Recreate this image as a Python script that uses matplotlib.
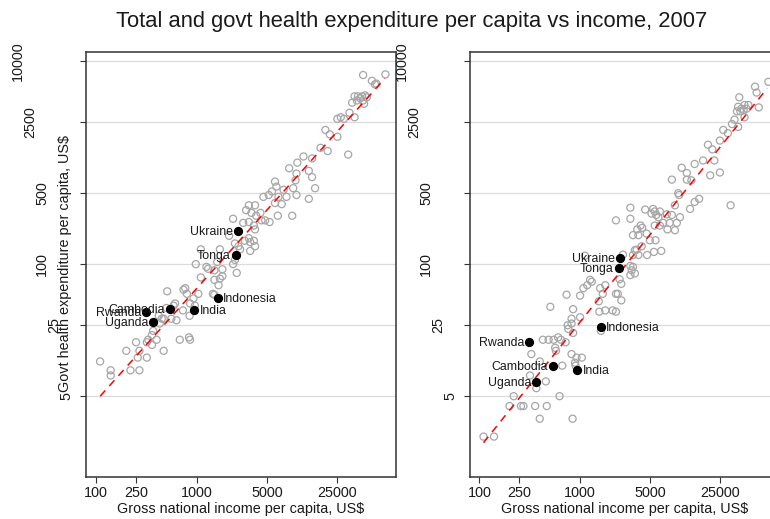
import matplotlib
matplotlib.use('Agg')
import matplotlib.pyplot as plt
from matplotlib.ticker import NullLocator

plt.rcParams['font.family'] = ['Liberation Sans', 'DejaVu Sans']

# left panel: total health expenditure per capita vs GNI per capita (US$)
gni_total = [45000, 75000, 55000, 59000, 61000,
             37000, 40000, 44000, 47000, 39000, 42000, 45000, 49000, 35000, 46000,
             33000, 37000, 25000, 27000, 29000,
             19000, 21000, 25000, 32000, 17000, 20000,
             14000, 11500, 10000, 8300, 13000, 14000, 9800, 9600, 9800, 9100, 15000, 13000, 8900,
             7300, 7800, 6500, 6200, 6000, 5600, 5200, 4600, 6000, 7000, 6400, 5300, 4800, 4300,
             3800, 3900, 3300, 3100, 3500, 3300, 3700, 3800, 4400, 2900, 2300,
             3300, 3000, 3400, 3700, 3800, 3400, 2700, 2600, 2400, 2100, 2400, 2500, 2300,
             1100, 1700, 1600, 1250, 1300, 1500, 1800, 980, 1100, 1500, 1700, 1800, 1650,
             740, 770, 800, 510, 1040, 1450, 930, 860, 960, 610, 590, 500, 730, 850, 630,
             560, 450, 420, 680, 860, 840, 1500,
             370, 360, 330, 320, 400, 360, 470, 250, 270, 260, 320, 200, 220, 270, 110,
             140, 140, 430, 470]
hexp_total = [7300, 7400, 6400, 5900, 6000,
              4500, 4500, 4500, 4600, 4100, 4300, 4100, 4400, 3900, 3800,
              3100, 2800, 2700, 2800, 2700,
              2100, 1900, 1800, 1200, 1400, 1300,
              1100, 1150, 1000, 880, 830, 720, 780, 670, 480, 560, 560, 440, 300,
              540, 460, 460, 580, 650, 520, 480, 460, 400, 390, 300, 260, 270, 320,
              380, 300, 380, 340, 320, 260, 240, 220, 270, 255, 280,
              180, 170, 165, 170, 150, 135, 140, 150, 160, 190, 110, 82, 100,
              140, 140, 105, 94, 90, 87, 89, 100, 74, 70, 72, 76, 62,
              56, 58, 51, 54, 51, 51, 46, 41, 39, 41, 39, 37, 35, 31, 28,
              29, 29, 31, 18, 18, 19, 50,
              22, 20, 18, 17, 18, 16, 14, 17, 14, 12, 12, 14, 9, 9, 11,
              9, 8, 26, 29]

# right panel: government health expenditure per capita vs GNI per capita (US$)
gni_govt = [76000, 56000, 58000, 61000, 39000, 38000, 41000, 44000, 48000, 43000,
            46000, 37000, 40000, 44000, 35000, 33000, 38000, 27000, 30000, 25000,
            25000, 32000, 19000, 21000, 22000, 17000, 14000, 20000, 10400, 11700,
            11700, 8300, 13000, 9600, 9800, 8900, 14000, 15500, 12600,
            4500, 5400, 5600, 6300, 5200, 5800, 6100, 7400, 8300, 10000,
            7900, 6800, 9300, 5600, 6300, 7500, 8900,
            3200, 3200, 2300, 4050, 4200, 3750, 3400, 3850, 4650, 5000,
            5700, 4150, 3700, 3550, 3400, 3850, 4700, 5500, 6500,
            1130, 2700, 3200, 3400, 3300, 3200, 3550, 2500, 2600, 2400, 2600, 2300,
            1270, 1320, 1190, 1090, 1010, 740, 1800, 1700, 1600, 1550, 1570, 2130, 2300, 1800,
            510, 860, 1010, 830, 830, 860, 760, 770, 1630,
            430, 490, 550, 610, 650, 725, 570, 580, 330, 830, 930, 1050, 900, 910, 670,
            400, 320, 370, 460, 220, 630, 200, 260, 275, 360, 470, 400, 850, 110, 140]
hexp_govt = [6250, 5600, 4900, 3500, 4400, 3550, 3400, 3700, 3700, 3300,
             3400, 3200, 3200, 2800, 2650, 2400, 2250, 2100, 1950, 1650,
             800, 380, 1500, 1350, 1050, 1050, 970, 750, 890, 790,
             680, 680, 670, 500, 480, 380, 410, 440, 350,
             345, 350, 330, 330, 315, 305, 290, 310, 305, 290,
             255, 255, 255, 240, 240, 220, 216,
             360, 280, 270, 240, 228, 220, 193, 193, 200, 172,
             172, 150, 139, 137, 123, 123, 123, 132, 135,
             121, 124, 96, 94, 87, 78, 81, 71, 64, 51, 44, 51,
             70, 67, 62, 58, 49, 50, 62, 51, 58, 43, 34, 35, 34, 35,
             38, 36, 30, 29, 26, 21, 25, 23, 22,
             18, 18, 18, 19, 18, 17, 15, 14, 13, 13, 12, 12, 10.7, 10, 10,
             11, 8, 6, 7, 5, 5, 4, 4, 4, 4, 4, 3, 3, 2, 2]

# labelled countries
countries = ['Ukraine', 'Tonga', 'Indonesia', 'India', 'Cambodia', 'Rwanda', 'Uganda']
hl_gni = [2550, 2450, 1640, 950, 545, 315, 370]
hl_total = [210, 123, 46, 35, 36, 34, 27]
hl_govt = [115, 92, 24, 9, 10, 17, 6.9]
label_side = ['left', 'left', 'right', 'right', 'left', 'left', 'left']

# fitted lines (dashed red)
fit_x = [110, 74000]
fit_total = [5, 6750]
fit_govt = [1.74, 5400]

xticks = [100, 250, 1000, 5000, 25000]
yticks = [5, 25, 100, 500, 2500, 10000]

W, H = 770, 519
fig = plt.figure(figsize=(W / 100, H / 100), dpi=100)
ax1 = fig.add_axes([86 / W, 1 - 477 / H, 310 / W, 425 / H])
ax2 = fig.add_axes([470 / W, 1 - 477 / H, 310 / W, 425 / H])


def draw_panel(ax, gni, hexp, hl_y, fit_y, xlim):
    ax.set_xscale('log')
    ax.set_yscale('log')
    for t in yticks:
        ax.axhline(t, color='#dcdcdc', lw=0.9, zorder=1)
    ax.scatter(gni, hexp, s=26, facecolors='none', edgecolors='#a6a6a6',
               linewidths=0.9, zorder=3)
    ax.plot(fit_x, fit_y, color='red', lw=1.1, dashes=(5, 4), zorder=4)
    ax.scatter(hl_gni, hl_y, s=32, color='black', zorder=5)
    for name, x, y, side in zip(countries, hl_gni, hl_y, label_side):
        dx = -5 if side == 'left' else 5
        ax.annotate(name, (x, y), xytext=(dx, -1), textcoords='offset pixels',
                    ha='right' if side == 'left' else 'left', va='center',
                    fontsize=8.9, color='#1a1a1a', zorder=6)
    ax.set_xlim(*xlim)
    ax.set_ylim(0.8, 12300)
    ax.set_xticks(xticks)
    ax.set_xticklabels([str(t) for t in xticks])
    ax.set_yticks(yticks)
    ax.set_yticklabels([])
    ax.xaxis.set_minor_locator(NullLocator())
    ax.yaxis.set_minor_locator(NullLocator())
    ax.tick_params(axis='x', length=4, width=0.8, color='#333333', pad=2.5,
                   labelsize=10.4, labelcolor='#1a1a1a')
    ax.tick_params(axis='y', length=4.5, width=0.8, color='#333333')
    for t in yticks:
        lab = str(t)
        ax.annotate(lab, xy=(0, t), xycoords=('axes fraction', 'data'),
                    xytext=(-(7 + 12.3 * len(lab)), 0), textcoords='offset pixels',
                    rotation=90, ha='center', va='center', fontsize=10.4,
                    color='#1a1a1a', annotation_clip=False)
    for sp in ax.spines.values():
        sp.set_color('#333333')
        sp.set_linewidth(1.1)
    ax.text(0.5, -(509 - 477) / 425, 'Gross national income per capita, US$',
            transform=ax.transAxes, ha='center', va='center', fontsize=10.4,
            color='#1a1a1a')


draw_panel(ax1, gni_total, hexp_total, hl_total, fit_total, (79.6, 95500))
draw_panel(ax2, gni_govt, hexp_govt, hl_govt, fit_govt, (80.7, 99300))

fig.text(65 / W, 1 - 264 / H, 'Govt health expenditure per capita, US$',
         rotation=90, ha='center', va='center', fontsize=10.4, color='#1a1a1a')
fig.text(412 / W, 1 - 22 / H,
         'Total and govt health expenditure per capita vs income, 2007',
         ha='center', va='center', fontsize=15.8, color='#1a1a1a')

fig.savefig('out.png', dpi=100)
